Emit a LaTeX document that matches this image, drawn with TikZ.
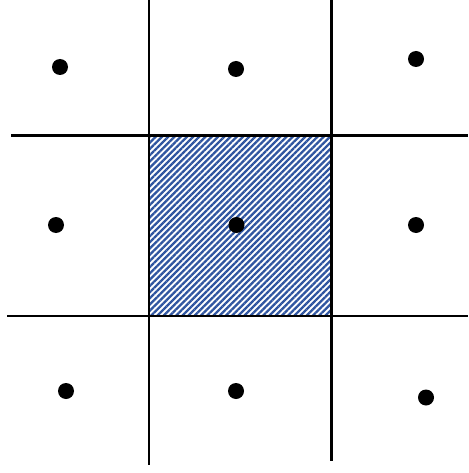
\documentclass[tikz,border=0pt]{standalone}
\usetikzlibrary{patterns.meta}
\definecolor{hatchblue}{RGB}{47,85,160}
\begin{document}
\begin{tikzpicture}[x=1pt,y=-1pt,
  gridline/.style={line width=2.8pt,black},
  dot/.style={circle,fill=black,inner sep=0pt,minimum size=16pt}]
\useasboundingbox (0,0) rectangle (468,473);
\fill[white] (0,0) rectangle (468,473);
\path[pattern={Lines[angle=45,distance=4.4pt,line width=2.3pt]},pattern color=hatchblue]
  (149,135.5) rectangle (331.5,316);
\coordinate (h1a) at (11,135.5); \coordinate (h1b) at (468,135.5);
\coordinate (h2a) at (7,316); \coordinate (h2b) at (468,316);
\coordinate (v1a) at (149,0); \coordinate (v1b) at (149,465);
\coordinate (v2a) at (331.5,0); \coordinate (v2b) at (331.5,461);
\draw[gridline] (h1a) -- (h1b);
\draw[gridline] (h2a) -- (h2b);
\draw[gridline] (v1a) -- (v1b);
\draw[gridline] (v2a) -- (v2b);
\node[dot] (d11) at (60,67) {};
\node[dot] (d12) at (236,69) {};
\node[dot] (d13) at (416,59) {};
\node[dot] (d21) at (56,225) {};
\node[dot] (d22) at (236.5,225) {};
\node[dot] (d23) at (416,225) {};
\node[dot] (d31) at (66,391) {};
\node[dot] (d32) at (236,391) {};
\node[dot] (d33) at (426,397.5) {};
\end{tikzpicture}
\end{document}
